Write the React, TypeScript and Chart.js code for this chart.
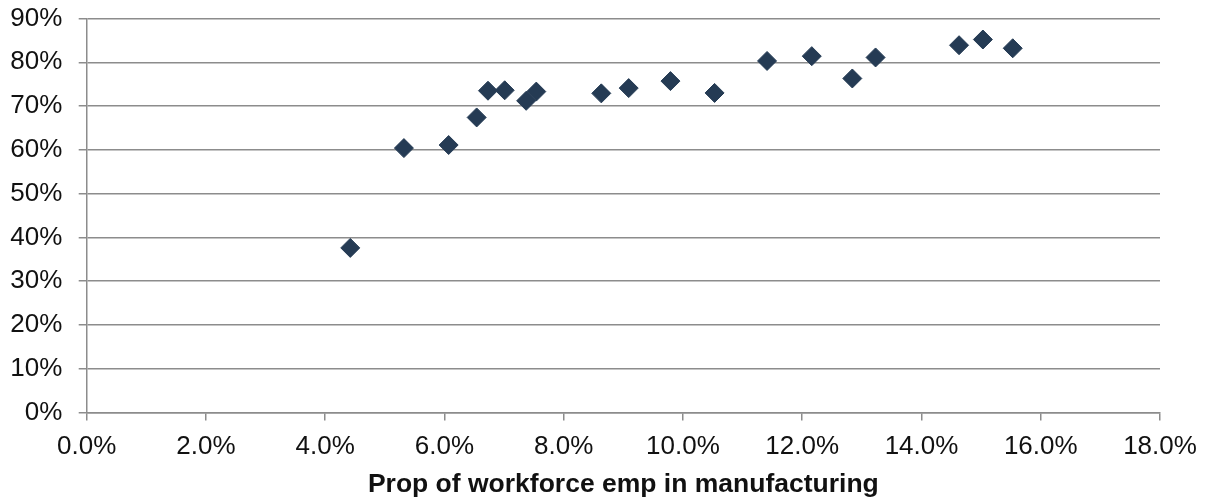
import React, { useEffect, useRef } from "react";
import { Chart, registerables } from "chart.js";

Chart.register(...registerables);

// Proportion of workforce employed in manufacturing (%)
const manufacturingShare = [4.42, 5.32, 6.07, 6.54, 6.73, 7.01, 7.37, 7.54, 8.63, 9.09, 9.79, 10.53, 11.41, 12.16, 12.84, 13.23, 14.63, 15.03, 15.53];
// Y values (%)
const yValues = [37.6, 60.4, 61.1, 67.4, 73.5, 73.6, 71.2, 73.3, 72.9, 74.1, 75.7, 73.0, 80.3, 81.4, 76.3, 81.1, 83.9, 85.2, 83.2];

const xTitle = "Prop of workforce emp in manufacturing";
const xMin = 0, xMax = 18, xStep = 2;
const yMin = 0, yMax = 90, yStep = 10;

export default function App() {
  const ref = useRef<HTMLCanvasElement | null>(null);

  useEffect(() => {
    if (!ref.current) return;
    const points = manufacturingShare.map((x, i) => ({ x, y: yValues[i] }));
    const font = { family: "'Liberation Sans', Arial, sans-serif", size: 26 };
    const gridColor = "#8c8c8c";
    const chart = new Chart(ref.current, {
      type: "scatter",
      data: {
        datasets: [
          {
            data: points,
            pointStyle: "rectRot",
            pointRadius: 9.5,
            pointHoverRadius: 9.5,
            pointBackgroundColor: "#253b54",
            pointBorderColor: "#253b54",
            pointBorderWidth: 1,
          },
        ],
      },
      options: {
        animation: false,
        responsive: false,
        maintainAspectRatio: false,
        layout: { padding: { top: 18.5, right: 49, left: 0, bottom: 0 } },
        plugins: { legend: { display: false }, tooltip: { enabled: false } },
        scales: {
          x: {
            type: "linear",
            min: xMin,
            max: xMax,
            afterFit: (s: any) => { s.height = 89.5; s.paddingLeft = 0; s.paddingRight = 0; },
            ticks: {
              stepSize: xStep,
              font,
              color: "#111",
              padding: 11,
              maxRotation: 0,
              callback: (v: any) => Number(v).toFixed(1) + "%",
            },
            grid: {
              drawOnChartArea: false,
              drawTicks: true,
              tickLength: 8,
              color: gridColor,
              lineWidth: 1.5,
            },
            border: { display: true, color: gridColor, width: 1.5 },
            title: {
              display: true,
              text: xTitle,
              font: { ...font, size: 26.5, weight: "bold" },
              color: "#111",
              padding: { top: 8, bottom: 1 },
            },
          },
          y: {
            type: "linear",
            min: yMin,
            max: yMax,
            afterFit: (s: any) => { s.width = 86.7; s.paddingTop = 0; s.paddingBottom = 0; },
            ticks: {
              stepSize: yStep,
              font,
              color: "#111",
              padding: 16.4,
              callback: (v: any) => Math.round(Number(v)) + "%",
            },
            grid: {
              drawOnChartArea: true,
              drawTicks: true,
              tickLength: 8,
              color: gridColor,
              lineWidth: 1.5,
            },
            border: { display: true, color: gridColor, width: 1.5 },
          },
        },
      },
    });
    return () => chart.destroy();
  }, []);

  return (
    <div style={{ position: "absolute", left: 0, top: 0, width: 1209, height: 502, background: "#fff" }}>
      <canvas ref={ref} width={1209} height={502} style={{ width: 1209, height: 502, display: "block" }} />
    </div>
  );
}
